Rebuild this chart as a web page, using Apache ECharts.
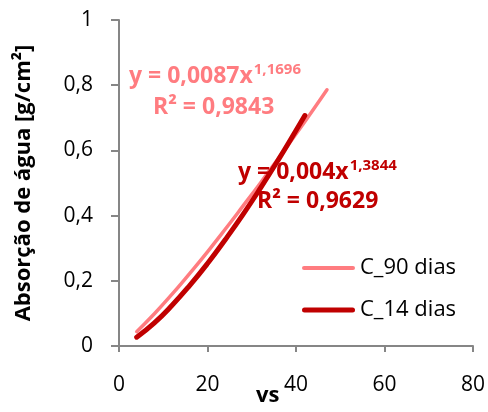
<!DOCTYPE html>
<html>
<head>
<meta charset="utf-8">
<script src="https://cdn.jsdelivr.net/npm/echarts@6/dist/echarts.min.js"></script>
<style>
  html, body { margin: 0; padding: 0; background: #fff; }
  #chart { width: 488px; height: 412px; }
</style>
</head>
<body>
<div id="chart"></div>
<script>
// Water absorption (g/cm²) against √s for two curing ages (power trend lines)
const xTicks = [0, 20, 40, 60, 80];
const yTicks = [0, 0.2, 0.4, 0.6, 0.8, 1];

const xC90 = [4, 8, 12, 16, 20, 24, 28, 32, 36, 40, 44, 47];
const yC90 = [0.044, 0.099, 0.159, 0.223, 0.289, 0.358, 0.429, 0.501, 0.575, 0.650, 0.727, 0.786];

const xC14 = [4, 8, 12, 16, 20, 24, 28, 32, 36, 40, 42];
const yC14 = [0.027, 0.071, 0.125, 0.186, 0.253, 0.326, 0.403, 0.485, 0.571, 0.661, 0.707];

const seriesNames = ['C_90 dias', 'C_14 dias'];
const eqC90 = ['y = 0,0087x', '1,1696', 'R² = 0,9843'];
const eqC14 = ['y = 0,004x', '1,3844', 'R² = 0,9629'];

const FONT = '"Open Sans", Lato, sans-serif';
const AXIS = '#868686';
const LIGHT = '#FF7C80';
const DARK = '#C00000';
const EQ_SIZE = 23;

const pair = (xs, ys) => xs.map((x, i) => [x, ys[i]]);
const fmt = v => String(v).replace('.', ',');

// rounded bar used as legend line sample
const barIcon = h => 'path://M' + (h / 2) + ',0H' + (53 - h / 2) + 'A' + (h / 2) + ',' + (h / 2) + ' 0 0 1 ' +
  (53 - h / 2) + ',' + h + 'H' + (h / 2) + 'A' + (h / 2) + ',' + (h / 2) + ' 0 0 1 ' + (h / 2) + ',0Z';

function textWidth(t, font) {
  const c = document.createElement('canvas').getContext('2d');
  c.font = font;
  return c.measureText(t).width;
}

// trend-line equation: main text, superscript exponent, R² line below
function equation(eq, color, x, y, supY, rx, ry) {
  const base = { fontWeight: 'bold', fill: color, fontFamily: FONT, verticalAlign: 'middle', align: 'left' };
  const mainW = textWidth(eq[0], 'bold ' + EQ_SIZE + 'px ' + FONT);
  return [
    { type: 'text', x: x, y: y, z: 10, style: Object.assign({ text: eq[0], fontSize: EQ_SIZE }, base) },
    { type: 'text', x: x + mainW + 1, y: supY, z: 10, style: Object.assign({ text: eq[1], fontSize: 15 }, base) },
    { type: 'text', x: rx, y: ry, z: 10, style: Object.assign({ text: eq[2], fontSize: EQ_SIZE }, base) }
  ];
}

const chart = echarts.init(document.getElementById('chart'));

chart.setOption({
  animation: false,
  grid: { left: 119, right: 15, top: 20, bottom: 66 },
  legend: {
    orient: 'vertical',
    left: 297,
    top: 251,
    itemWidth: 53,
    itemHeight: 24,
    itemGap: 18,
    symbolKeepAspect: true,
    textStyle: { fontSize: 22, lineHeight: 24, color: '#000', fontFamily: FONT },
    data: [
      { name: seriesNames[0], icon: barIcon(4) },
      { name: seriesNames[1], icon: barIcon(5) }
    ]
  },
  xAxis: {
    type: 'value',
    min: xTicks[0],
    max: xTicks[xTicks.length - 1],
    interval: 20,
    axisLine: { onZero: false, lineStyle: { color: AXIS, width: 2 } },
    axisTick: { show: true, length: 6, lineStyle: { color: AXIS, width: 2 } },
    axisLabel: { fontSize: 21, color: '#000', fontFamily: FONT, margin: 29 },
    splitLine: { show: false }
  },
  yAxis: {
    type: 'value',
    min: yTicks[0],
    max: yTicks[yTicks.length - 1],
    interval: 0.2,
    name: 'Absorção de água [g/cm²]',
    nameLocation: 'middle',
    nameRotate: 90,
    nameGap: 84,
    nameTextStyle: { fontSize: 22, fontWeight: 'bold', color: '#000', fontFamily: FONT },
    axisLine: { show: true, lineStyle: { color: AXIS, width: 2 } },
    axisTick: { show: true, length: 8, lineStyle: { color: AXIS, width: 2 } },
    axisLabel: { fontSize: 21, color: '#000', fontFamily: FONT, margin: 26, formatter: fmt },
    splitLine: { show: false }
  },
  series: [
    {
      name: seriesNames[0],
      type: 'line',
      smooth: true,
      symbol: 'none',
      lineStyle: { color: LIGHT, width: 3.5, cap: 'round' },
      itemStyle: { color: LIGHT },
      data: pair(xC90, yC90),
      z: 2
    },
    {
      name: seriesNames[1],
      type: 'line',
      smooth: true,
      symbol: 'none',
      lineStyle: { color: DARK, width: 5, cap: 'round' },
      itemStyle: { color: DARK },
      data: pair(xC14, yC14),
      z: 3
    }
  ],
  graphic: equation(eqC90, LIGHT, 129, 76, 70, 153, 107).concat(
    equation(eqC14, DARK, 238, 172, 166, 257, 201),
    [{
      type: 'text',
      x: 256,
      y: 396,
      style: { text: 'vs', fontSize: 22, fontWeight: 'bold', fill: '#000', fontFamily: FONT, align: 'left', verticalAlign: 'middle' }
    }]
  )
});
</script>
</body>
</html>
